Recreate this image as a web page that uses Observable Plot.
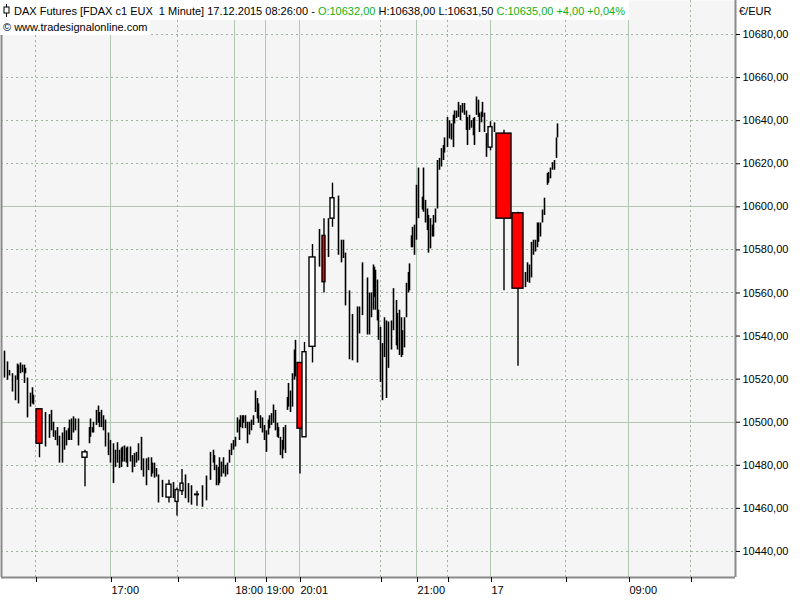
<!DOCTYPE html>
<html><head><meta charset="utf-8">
<script src="https://cdn.jsdelivr.net/npm/d3@7"></script>
<script src="https://cdn.jsdelivr.net/npm/@observablehq/plot@0.6"></script>
<style>
body{margin:0;background:#fff;}
#wrap{position:relative;width:800px;height:600px;font-family:"Liberation Sans",Arial,sans-serif;font-size:11px;color:#000;overflow:hidden}
#chart{position:absolute;left:0;top:0}
.t1{position:absolute;left:0;top:0;height:20px;line-height:22px;background:#fff;padding:0 4px 0 3px;white-space:pre}
.t2{position:absolute;left:0;top:20px;height:15px;line-height:15px;background:#fff;padding:0 3px 0 3px;white-space:pre}
.g{color:#12b012}
.unit{position:absolute;left:739px;top:5px;white-space:pre}
.icon{display:inline-block;vertical-align:-2px;margin-right:4px}
</style>
</head><body>
<div id="wrap">
  <div id="chart"></div>
  <div class="t1"><svg class="icon" width="7" height="13" viewBox="0 0 7 13"><line x1="3.5" y1="0" x2="3.5" y2="13" stroke="#000"/><rect x="1" y="3" width="5" height="6" fill="#fff" stroke="#000"/></svg>DAX Futures [FDAX c1 EUX  1 Minute] 17.12.2015 08:26:00 - <span class="g">O:10632,00</span> H:10638,00 L:10631,50 <span class="g">C:10635,00 +4,00 +0,04%</span></div>
  <div class="t2">© www.tradesignalonline.com</div>
  <div class="unit">€/EUR</div>
</div>
<script>
// thin 1-minute bars: [time slot, high, low]
const thinBars = [
[4,10533,10520.5],[7,10528,10519.5],[9,10524,10521.5],[12,10522.5,10514],[15,10521.5,10510],
[17,10527,10519.5],[18,10526.5,10508.5],[20,10527.5,10522.5],[22,10526.5,10523],[24,10526.5,10518],
[25,10525,10522.5],[27,10520.5,10502],[30,10513.5,10507],[32,10516,10508.5],[33,10512.5,10508],
[45,10504.5,10488.5],[49,10503.5,10492.5],[51,10505.5,10496],[53,10500,10493],[55,10496,10491.5],
[57,10497.5,10489],[59,10493.5,10481],[62,10495,10481],[64,10497.5,10487],[66,10496,10489],
[68,10497,10491.5],[69,10501,10491.5],[71,10501.5,10491.5],[73,10502.5,10495],[75,10501.5,10496],
[78,10501.5,10489],[89,10497.5,10490],[90,10501.5,10493],[92,10497.5,10495],[93,10500,10495],
[96,10505.5,10498.5],[98,10507.5,10499.5],[99,10504.5,10497.5],[101,10505.5,10497.5],[103,10503,10496],
[105,10501,10488.5],[108,10495,10484.5],[110,10491.5,10481],[113,10490,10471.5],[115,10487,10479],
[117,10490.5,10481],[119,10487,10478.5],[121,10488,10479],[122,10488.5,10481.5],[124,10489,10481.5],
[126,10488,10481],[127,10488.5,10479],[130,10488.5,10481.5],[132,10484.5,10476.5],[134,10485.5,10479],
[136,10486,10481],[138,10490,10482],[141,10493,10477.5],[143,10483,10474.5],[146,10483,10470.5],
[148,10483.5,10477.5],[151,10483.5,10474.5],[152,10481,10476],[154,10481,10474],[156,10478.5,10474.5],
[158,10475.5,10462.5],[162,10473,10465],[173,10472,10464.5],[185,10475.5,10464.5],[188,10471.5,10462.5],
[191,10470.5,10461.5],[202,10470.5,10460.5],[206,10475,10463.5],[210,10486,10473],[213,10487,10481],
[214,10484.5,10477.5],[216,10480,10470.5],[218,10479,10470.5],[219,10483.5,10471.5],[221,10481.5,10474.5],
[223,10483.5,10476],[225,10480,10474.5],[227,10481,10475.5],[229,10487,10481],[231,10490,10484.5],
[233,10491.5,10487],[235,10493,10488.5],[237,10502,10495],[239,10501,10491.5],[240,10503,10497.5],
[242,10503,10497],[243,10503,10499.5],[245,10503,10497],[247,10500,10490],[249,10500,10494],
[251,10501,10496],[253,10503,10498.5],[255,10514.5,10504.5],[257,10511,10501.5],[258,10508.5,10499.5],
[260,10503,10497],[262,10502,10495],[264,10498.5,10491.5],[266,10496,10486],[268,10501,10494],
[269,10503,10497],[271,10504,10498.5],[273,10508,10499.5],[275,10505.5,10496],[277,10499.5,10493],
[278,10497.5,10492.5],[280,10493,10484.5],[282,10491.5,10483],[283,10497.5,10487],[285,10498.5,10485.5],
[287,10511.5,10505.5],[288,10518,10507],[290,10514.5,10504.5],[292,10522.5,10507],[294,10533.5,10519.5],
[295,10538,10521],[319,10589.5,10572],[328,10594.5,10576.5],[338,10605,10577.5],[341,10584.5,10574],
[343,10584.5,10576],[345,10578.5,10554],[349,10561,10529],[352,10550,10528.5],[357,10553.5,10527.5],
[359,10553.5,10541],[362,10574,10549.5],[367,10567,10540.5],[369,10560,10540.5],[371,10560,10548.5],
[373,10573,10552],[374,10572,10558],[375,10570.5,10552],[377,10566,10547],[378,10552,10538],
[380,10544,10518.5],[382,10536.5,10510],[384,10548.5,10530],[386,10547,10511],[388,10546.5,10525],
[391,10547,10533.5],[393,10562,10542.5],[396,10556.5,10535.5],[397,10550.5,10533.5],[399,10552,10531],
[401,10548.5,10530],[402,10542.5,10531],[404,10548.5,10534.5],[406,10564.5,10548.5],[408,10569.5,10560],
[409,10573.5,10561],[411,10586.5,10581],[412,10590.5,10581],[414,10591.5,10577.5],[416,10610,10584.5],
[418,10618,10594.5],[422,10604.5,10598.5],[423,10618,10597.5],[425,10603,10592.5],[427,10599,10589],
[428,10596,10578.5],[430,10594.5,10580.5],[432,10591.5,10586],[433,10596,10586],[435,10599,10592.5],
[437,10621.5,10599],[439,10622.5,10617],[441,10627,10618.5],[443,10628.5,10621.5],[444,10632,10625],
[447,10641.5,10627.5],[449,10640,10631.5],[451,10638.5,10631],[453,10642.5,10627.5],[454,10644.5,10638.5],
[456,10644.5,10641],[458,10648.5,10641.5],[460,10647,10640],[462,10648,10643.5],[464,10648,10642.5],
[466,10644.5,10635.5],[467,10641.5,10628.5],[469,10642.5,10635.5],[471,10640,10636.5],[473,10641,10633],
[474,10641.5,10628.5],[476,10651,10642.5],[478,10649.5,10641.5],[479,10643.5,10634.5],[481,10644,10639],
[482,10648.5,10641.5],[484,10643.5,10634.5],[486,10634,10623],[494,10639,10634.5],
[525,10569.5,10562.5],[527,10574,10565],[529,10573,10564.5],[531,10583.5,10567],[533,10584.5,10577.5],
[535,10584.5,10579],[537,10592.5,10581],[538,10592.5,10583.5],[540,10592.5,10586],[542,10598.5,10592.5],
[544,10604,10596],[547,10615.5,10610],[548,10616,10611],[550,10618,10613],[552,10620.5,10617],
[554,10621.5,10617],[556,10632,10622.5],[557,10638.5,10632]
];
// wider candles: [slot start, slot end, open, high, low, close]
const wideCandles = [
[36,42,10506,10506,10483.5,10490],
[82,87,10483.5,10487,10470,10486],
[166,171,10465,10473,10462.5,10471],
[175,178,10463,10469.5,10456.5,10468.5],
[180,183,10468,10478,10466,10471.5],
[194,199,10466.5,10468,10461,10466.5],
[297,302,10527.5,10527.5,10476,10497],
[302,306,10493,10537,10493,10532.5],
[309,315,10535,10582.5,10527.5,10576.5],
[322,325,10586.5,10594.5,10560,10565],
[330,334,10594.5,10611,10590.5,10604],
[488,492,10627.5,10639.5,10626,10637],
[496,511,10634,10635.5,10561,10594.5],
[512,523,10597,10597.5,10526,10562]
];
const timeTicks = [35,110,177,234,265,299,380,416,447,490,565,628,690];
const timeLabels = ["","17:00","","18:00","19:00","20:01","","21:00","","17","","09:00",""];
const priceTicks = [10440,10460,10480,10500,10520,10540,10560,10580,10600,10620,10640,10660,10680];
const solidPrices = [10500,10600];
const xDomain = [1,735];
const yDomain = [10427.9,10695.8];

const bars = thinBars.map(([x,h,l]) => ({x,h,l}));
const candles = wideCandles.map(([x1,x2,o,h,l,c]) => ({x1,x2,o,h,l,c,xm:(x1+x2)/2}));
const labelOf = new Map(timeTicks.map((t,i)=>[t,timeLabels[i]]));
const solidTimes = timeTicks.filter((t,i)=>timeLabels[i]!=="");
const dottedTimes = timeTicks.filter((t,i)=>timeLabels[i]==="");
const gridSolid = "#b2c6b2", gridDot = "#9db59d";

const chart = Plot.plot({
  width:800, height:600, marginLeft:1, marginRight:65, marginTop:0, marginBottom:23,
  x:{domain:xDomain, axis:null},
  y:{domain:yDomain, axis:null},
  style:{background:"#ffffff", fontFamily:"Liberation Sans, Arial, sans-serif", fontSize:"11px", color:"#000", overflow:"visible"},
  marks:[
    Plot.frame({fill:"#f5f5f5", stroke:null}),
    Plot.ruleY(priceTicks.filter(d=>!solidPrices.includes(d)), {stroke:gridDot, strokeDasharray:"1.5,3.5", strokeWidth:1, shapeRendering:"crispEdges"}),
    Plot.ruleY(solidPrices, {stroke:gridSolid, strokeWidth:1, shapeRendering:"crispEdges"}),
    Plot.ruleX(dottedTimes, {stroke:gridDot, strokeDasharray:"1.5,3.5", strokeWidth:1, shapeRendering:"crispEdges"}),
    Plot.ruleX(solidTimes, {stroke:gridSolid, strokeWidth:1, shapeRendering:"crispEdges"}),
    Plot.ruleX(bars, {x:"x", y1:"l", y2:"h", stroke:"#000", strokeWidth:1.6}),
    Plot.ruleX(candles, {x:"xm", y1:"l", y2:"h", stroke:"#000", strokeWidth:1.4}),
    Plot.rect(candles.filter(d=>d.c<d.o), {x1:"x1", x2:"x2", y1:"o", y2:"c", fill:"#ff0000", stroke:"#000", strokeWidth:1.4}),
    Plot.rect(candles.filter(d=>d.c>d.o), {x1:"x1", x2:"x2", y1:"o", y2:"c", fill:"#ffffff", stroke:"#000", strokeWidth:1.4}),
    Plot.ruleY(candles.filter(d=>d.c===d.o), {x1:"x1", x2:"x2", y:"o", stroke:"#000", strokeWidth:2}),
    Plot.ruleX(xDomain, {stroke:"#8a8a8a", strokeWidth:2}),
    Plot.ruleY([yDomain[0]], {stroke:"#8a8a8a", strokeWidth:2}),
    Plot.axisY(priceTicks, {anchor:"right", tickSize:4, tickPadding:3, label:null, tickFormat:d=>d.toFixed(2).replace(".",","), fontSize:11}),
    Plot.axisX(timeTicks, {anchor:"bottom", tickSize:5, tickPadding:4, label:null, tickFormat:d=>labelOf.get(d), textAnchor:"start", dx:1, fontSize:11})
  ]
});
document.getElementById("chart").appendChild(chart);
</script>
</body></html>
